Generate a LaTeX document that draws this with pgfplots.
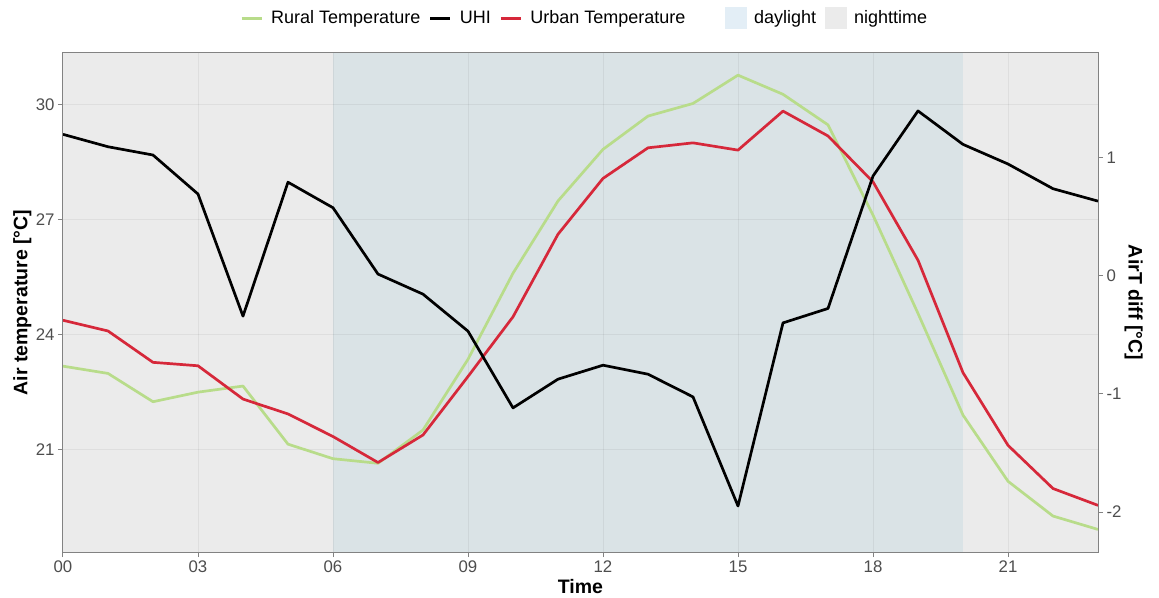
\documentclass[border=0pt]{standalone}
\usepackage{pgfplots}
\pgfplotsset{compat=1.18}
\usepackage{fontspec}
\setmainfont{Liberation Sans}
\definecolor{ruralc}{RGB}{184,220,138}
\definecolor{urbanc}{RGB}{214,40,58}
\definecolor{nightc}{RGB}{235,235,235}
\definecolor{dayc}{RGB}{218,227,230}
\definecolor{daykey}{RGB}{227,238,246}
\definecolor{tickc}{RGB}{77,77,77}
\definecolor{framec}{RGB}{130,130,130}
\begin{document}
\begin{tikzpicture}
\pgfplotsset{
  common/.style={
    at={(0,0)}, anchor=south west, scale only axis,
    width=1035pt, height=499pt,
    xmin=0, xmax=23,
  },
}
% axis 1: background, grid, left axis
\begin{axis}[common,
  ymin=18.31, ymax=31.36,
  axis on top,
  axis background/.style={fill=nightc},
  axis line style={draw=framec, line width=1pt},
  xtick={0,3,6,9,12,15,18,21},
  xticklabels={00,03,06,09,12,15,18,21},
  ytick={21,24,27,30},
  yticklabels={21,24,27,30},
  tick align=outside,
  major tick length=5pt,
  tick style={draw=framec, line width=1pt},
  xtick pos=bottom, ytick pos=left,
  grid=major,
  grid style={draw=black, opacity=0.055, line width=1pt},
  ticklabel style={font=\fontsize{16.8}{19}\selectfont, text=tickc},
  xlabel={Time},
  ylabel={Air temperature [°C]},
  label style={font=\fontsize{19.5}{22}\selectfont\bfseries},
  xlabel style={at={(axis description cs:0.5,-0.0701)}, anchor=center},
  ylabel style={at={(axis description cs:-0.0392,0.5)}, anchor=center},
]
\addplot[fill=dayc, draw=none] coordinates {(6,18.31) (6,31.36) (20,31.36) (20,18.31)} -- cycle;
\end{axis}
% axis 2: temperature lines
\begin{axis}[common,
  ymin=18.31, ymax=31.36,
  hide axis,
]
\addplot[ruralc, line width=2.7pt, line join=round] coordinates {
(0,23.17) (1,22.98) (2,22.24) (3,22.49) (4,22.65) (5,21.13) (6,20.75) (7,20.63)
(8,21.50) (9,23.35) (10,25.60) (11,27.49) (12,28.84) (13,29.71) (14,30.04) (15,30.78)
(16,30.28) (17,29.48) (18,27.12) (19,24.55) (20,21.89) (21,20.16) (22,19.25) (23,18.90)};
\addplot[urbanc, line width=2.7pt, line join=round] coordinates {
(0,24.37) (1,24.09) (2,23.27) (3,23.18) (4,22.31) (5,21.92) (6,21.33) (7,20.65)
(8,21.37) (9,22.90) (10,24.46) (11,26.62) (12,28.08) (13,28.88) (14,29.01) (15,28.82)
(16,29.84) (17,29.19) (18,27.99) (19,25.94) (20,23.00) (21,21.10) (22,19.97) (23,19.53)};
\end{axis}
% axis 3: UHI, right axis, legend
\begin{axis}[common,
  ymin=-2.338, ymax=1.883,
  axis x line=none,
  axis y line*=right,
  axis line style={draw=framec, line width=1pt},
  ytick={-2,-1,0,1},
  yticklabels={-2,-1,0,1},
  tick align=outside,
  major tick length=5pt,
  tick style={draw=framec, line width=1pt},
  ticklabel style={font=\fontsize{16.8}{19}\selectfont, text=tickc},
  ylabel={AirT diff [°C]},
  ylabel style={font=\fontsize{19.5}{22}\selectfont\bfseries, at={(axis description cs:1.0345,0.5)}, anchor=center, rotate=180},
  legend columns=-1,
  legend style={draw=none, fill=none, at={(axis description cs:0.504,1.0701)}, anchor=center,
    font=\fontsize{18}{21}\selectfont,
    /tikz/every even column/.append style={column sep=6.5pt},
    /tikz/every odd column/.append style={column sep=6pt},
  },
  legend cell align=left,
]
\addlegendimage{legend image code/.code={\draw[ruralc, line width=3pt] (0pt,0pt) -- (20pt,0pt);}}
\addlegendentry{Rural Temperature}
\addplot[black, line width=2.7pt, line join=round,
  legend image code/.code={\draw[black, line width=3pt] (0pt,0pt) -- (20pt,0pt);}] coordinates {
(0,1.195) (1,1.09) (2,1.02) (3,0.69) (4,-0.343) (5,0.79) (6,0.574) (7,0.013)
(8,-0.157) (9,-0.47) (10,-1.119) (11,-0.876) (12,-0.758) (13,-0.834) (14,-1.026) (15,-1.949)
(16,-0.40) (17,-0.278) (18,0.842) (19,1.393) (20,1.11) (21,0.944) (22,0.735) (23,0.63)};
\addlegendentry{UHI}
\addlegendimage{legend image code/.code={\draw[urbanc, line width=3pt] (0pt,0pt) -- (20pt,0pt);}}
\addlegendentry{Urban Temperature}
\addlegendimage{legend image code/.code={\path[draw=none,fill=none] (0pt,-10.5pt) rectangle (52pt,10.5pt); \fill[daykey] (31pt,-10.5pt) rectangle (52pt,10.5pt);}}
\addlegendentry{daylight}
\addlegendimage{legend image code/.code={\fill[nightc] (0pt,-10.5pt) rectangle (21pt,10.5pt);}}
\addlegendentry{nighttime}
\end{axis}
\pgfresetboundingbox
\path (-63pt,-45pt) rectangle (1096pt,552pt);
\end{tikzpicture}
\end{document}
